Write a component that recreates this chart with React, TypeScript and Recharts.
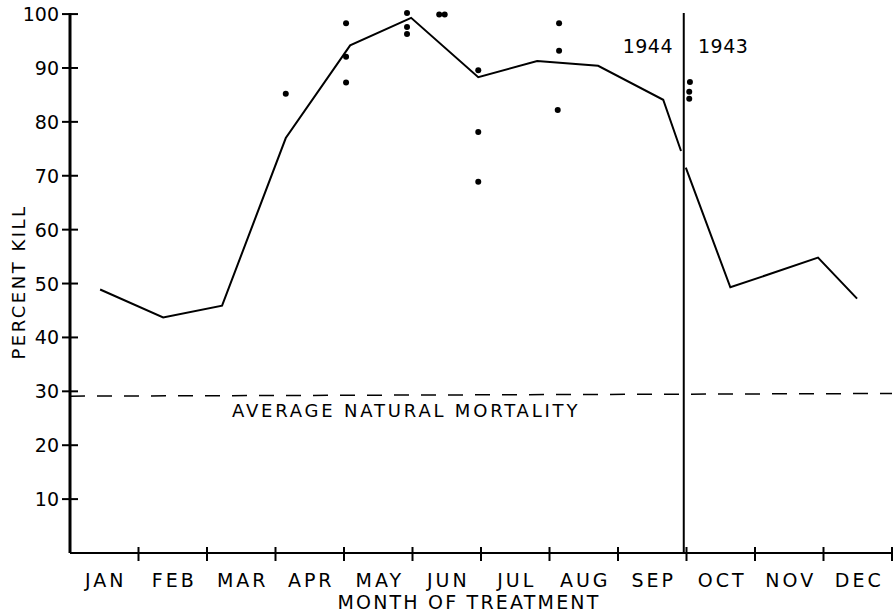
import React from "react";
import {
  ComposedChart,
  Line,
  Scatter,
  XAxis,
  YAxis,
  ReferenceLine,
} from "recharts";

// Month positions on a 0..12 scale (month boundaries at integers)
const monthLabels = ["JAN", "FEB", "MAR", "APR", "MAY", "JUN", "JUL", "AUG", "SEP", "OCT", "NOV", "DEC"];
const yTicks = [10, 20, 30, 40, 50, 60, 70, 80, 90, 100];

// 1944 treatment series (position in months, percent kill)
const pos1944 = [0.44, 1.36, 2.22, 3.15, 4.09, 4.98, 5.96, 6.82, 7.71, 8.66, 8.92];
const kill1944 = [48.9, 43.7, 45.9, 77.0, 94.2, 99.3, 88.3, 91.3, 90.4, 84.1, 74.6];

// 1943 treatment series
const pos1943 = [8.99, 9.64, 10.92, 11.49];
const kill1943 = [71.5, 49.3, 54.8, 47.2];

// Individual observations
const obsPos = [3.15, 4.03, 4.03, 4.03, 4.92, 4.92, 4.92, 5.39, 5.47, 5.96, 5.96, 5.96, 7.14, 7.14, 7.12, 9.05, 9.04, 9.04];
const obsKill = [85.2, 98.3, 92.1, 87.3, 100.2, 97.6, 96.3, 99.9, 99.9, 89.6, 78.1, 68.9, 98.3, 93.2, 82.2, 87.4, 85.6, 84.3];

const naturalMortality = [29.1, 29.6];
const yearDivider = 8.96;

const line1944 = pos1944.map((x, i) => ({ x, y: kill1944[i] }));
const line1943 = pos1943.map((x, i) => ({ x, y: kill1943[i] }));
const obs = obsPos.map((x, i) => ({ x, y: obsKill[i] }));

const xTicks: number[] = [];
for (let i = 0; i <= 24; i++) xTicks.push(i / 2);

const FONT = "'DejaVu Sans', sans-serif";

const XTick = (props: any) => {
  const { x, y, payload } = props;
  const v = payload.value as number;
  if (Number.isInteger(v)) {
    if (v === 0) return null;
    return <line x1={x} x2={x} y1={y} y2={y - 14} stroke="#000" strokeWidth={2} />;
  }
  const idx = Math.floor(v);
  return (
    <text x={x + 1.5} y={y + 26} textAnchor="middle" fontFamily={FONT} fontSize={19} letterSpacing={3} fill="#000">
      {monthLabels[idx]}
    </text>
  );
};

const YTick = (props: any) => {
  const { x, y, payload } = props;
  return (
    <g>
      <line x1={x} x2={x + 16} y1={y} y2={y} stroke="#000" strokeWidth={2} />
      <text x={x - 3} y={y + 7} textAnchor="end" fontFamily={FONT} fontSize={19} fill="#000">
        {payload.value}
      </text>
    </g>
  );
};

const Dot = (props: any) => {
  const { cx, cy } = props;
  return <circle cx={cx} cy={cy} r={3} fill="#000" />;
};

export default function App() {
  return (
    <div style={{ position: "absolute", left: 0, top: 0, background: "#fff" }}>
      <ComposedChart width={893} height={614} margin={{ top: 13, right: 1, left: 0, bottom: 0 }}>
        <XAxis
          dataKey="x"
          type="number"
          domain={[0, 12]}
          ticks={xTicks}
          interval={0}
          tick={<XTick />}
          tickLine={false}
          axisLine={{ stroke: "#000", strokeWidth: 2 }}
          height={61}
          allowDataOverflow
        />
        <YAxis
          type="number"
          domain={[0, 100]}
          ticks={yTicks}
          interval={0}
          tick={<YTick />}
          tickLine={false}
          axisLine={{ stroke: "#000", strokeWidth: 3 }}
          width={70}
        />
        <ReferenceLine
          segment={[
            { x: 0, y: naturalMortality[0] },
            { x: 12, y: naturalMortality[1] },
          ]}
          stroke="#000"
          strokeWidth={1.5}
          strokeDasharray="15 12"
        />
        <ReferenceLine x={yearDivider} stroke="#000" strokeWidth={2} />
        <Line
          data={line1944}
          dataKey="y"
          stroke="#000"
          strokeWidth={2}
          dot={false}
          isAnimationActive={false}
        />
        <Line
          data={line1943}
          dataKey="y"
          stroke="#000"
          strokeWidth={2}
          dot={false}
          isAnimationActive={false}
        />
        <Scatter data={obs} dataKey="y" shape={<Dot />} isAnimationActive={false} />
        <text x={232} y={417} fontFamily={FONT} fontSize={18} letterSpacing={2.8} fill="#000">
          AVERAGE NATURAL MORTALITY
        </text>
        <text x={673} y={53} textAnchor="end" fontFamily={FONT} fontSize={19} letterSpacing={0.5} fill="#000">
          1944
        </text>
        <text x={698} y={53} fontFamily={FONT} fontSize={19} letterSpacing={0.5} fill="#000">
          1943
        </text>
        <text x={469} y={609} textAnchor="middle" fontFamily={FONT} fontSize={19} letterSpacing={2.2} fill="#000">
          MONTH OF TREATMENT
        </text>
        <text
          x={25}
          y={282}
          transform="rotate(-90 25 282)"
          textAnchor="middle"
          fontFamily={FONT}
          fontSize={18}
          letterSpacing={2.5}
          fill="#000"
        >
          PERCENT KILL
        </text>
      </ComposedChart>
    </div>
  );
}
